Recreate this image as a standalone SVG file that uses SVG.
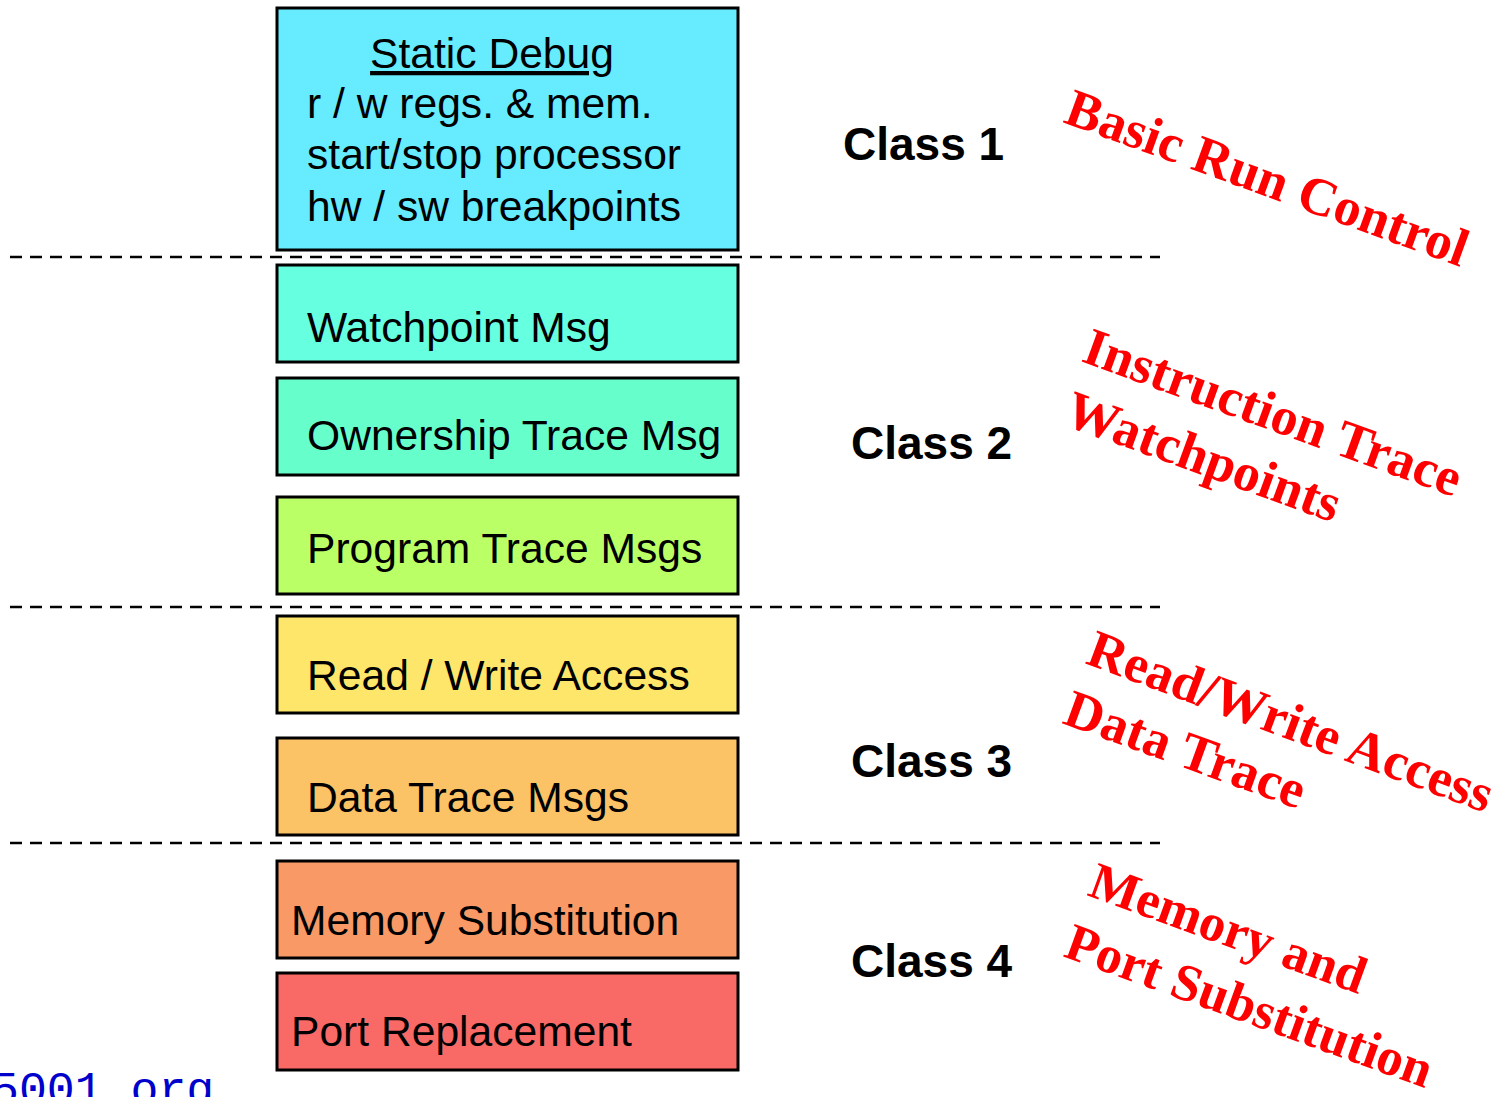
<svg xmlns="http://www.w3.org/2000/svg" width="1508" height="1097" viewBox="0 0 1508 1097">
<style>
.box{stroke:#000;stroke-width:3}
.t{font-family:"Liberation Sans",Arial,sans-serif;font-size:42.6px;fill:#000}
.cls{font-family:"Liberation Sans",Arial,sans-serif;font-size:46px;font-weight:bold;fill:#000}
.red{font-family:"Liberation Serif","Times New Roman",serif;font-size:53.5px;font-weight:bold;fill:#FF0000}
.red2{font-family:"Liberation Serif","Times New Roman",serif;font-size:52.5px;font-weight:bold;fill:#FF0000}
.dash{stroke:#000;stroke-width:2.5;stroke-dasharray:12 8;fill:none}
</style>
<rect width="1508" height="1097" fill="#fff"/>
<g id="separators">
<line class="dash" x1="10" y1="257" x2="1160" y2="257"/>
<line class="dash" x1="10" y1="607" x2="1160" y2="607"/>
<line class="dash" x1="10" y1="843" x2="1160" y2="843"/>
</g>
<g id="static-debug">
<rect class="box" x="277" y="8" width="461" height="242" fill="#66ECFE"/>
<text class="t" x="492" y="68" text-anchor="middle" text-decoration="underline">Static Debug</text>
<text class="t" x="307" y="118">r / w regs. &amp; mem.</text>
<text class="t" x="307" y="169">start/stop processor</text>
<text class="t" x="307" y="221">hw / sw breakpoints</text>
</g>
<g id="watchpoint">
<rect class="box" x="277" y="265" width="461" height="97" fill="#66FFE0"/>
<text class="t" x="307" y="342">Watchpoint Msg</text>
</g>
<g id="ownership">
<rect class="box" x="277" y="378" width="461" height="97" fill="#66FFCC"/>
<text class="t" x="307" y="450">Ownership Trace Msg</text>
</g>
<g id="program-trace">
<rect class="box" x="277" y="497" width="461" height="97" fill="#BBFF66"/>
<text class="t" x="307" y="563">Program Trace Msgs</text>
</g>
<g id="read-write">
<rect class="box" x="277" y="616" width="461" height="97" fill="#FDE66A"/>
<text class="t" x="307" y="690">Read / Write Access</text>
</g>
<g id="data-trace">
<rect class="box" x="277" y="738" width="461" height="97" fill="#FBC266"/>
<text class="t" x="307" y="812">Data Trace Msgs</text>
</g>
<g id="memory-sub">
<rect class="box" x="277" y="861" width="461" height="97" fill="#F99966"/>
<text class="t" x="291" y="935">Memory Substitution</text>
</g>
<g id="port-replacement">
<rect class="box" x="277" y="973" width="461" height="97" fill="#F96966"/>
<text class="t" x="291" y="1046">Port Replacement</text>
</g>
<g id="class-labels">
<text class="cls" x="843" y="160">Class 1</text>
<text class="cls" x="851" y="459">Class 2</text>
<text class="cls" x="851" y="777">Class 3</text>
<text class="cls" x="851" y="977">Class 4</text>
</g>
<g id="annotations">
<text class="red" transform="translate(1062,122) rotate(20)">Basic Run Control</text>
<text class="red" transform="translate(1080,361) rotate(20)">Instruction Trace</text>
<text class="red" transform="translate(1062,424) rotate(20)">Watchpoints</text>
<text class="red" transform="translate(1084,663) rotate(20.5)">Read/Write Access</text>
<text class="red" transform="translate(1061,723) rotate(20)">Data Trace</text>
<text class="red2" transform="translate(1086,895) rotate(20)">Memory and</text>
<text class="red2" transform="translate(1062,956) rotate(20)">Port Substitution</text>
</g>
<text x="-9" y="1104" font-family="'Liberation Mono','Courier New',monospace" font-size="46.5" fill="#0000CC">5001.org</text>
</svg>
